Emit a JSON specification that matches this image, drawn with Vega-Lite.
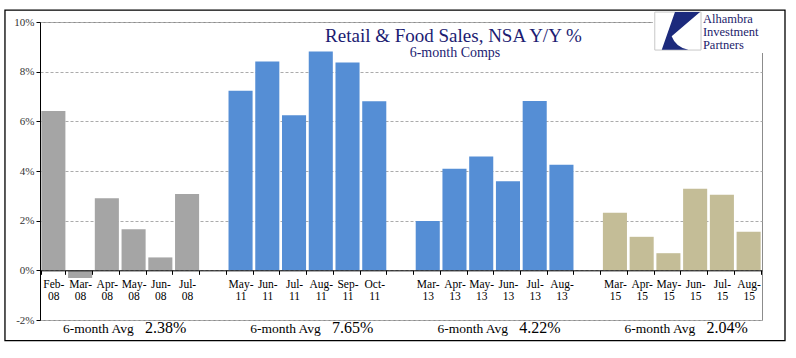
{
  "$schema": "https://vega.github.io/schema/vega-lite/v6.json",
  "width": 722,
  "height": 298,
  "autosize": {"type": "none"},
  "padding": {"left": 40, "top": 22, "right": 34, "bottom": 38},
  "background": "white",
  "config": {"view": {"stroke": "#8C8C8C"}, "font": "Liberation Serif"},
  "datasets": {
    "sales": [
      {"month": "Feb-08", "value": 6.42, "period": "2008"},
      {"month": "Mar-08", "value": -0.31, "period": "2008"},
      {"month": "Apr-08", "value": 2.90, "period": "2008"},
      {"month": "May-08", "value": 1.65, "period": "2008"},
      {"month": "Jun-08", "value": 0.52, "period": "2008"},
      {"month": "Jul-08", "value": 3.07, "period": "2008"},
      {"month": "May-11", "value": 7.23, "period": "2011"},
      {"month": "Jun-11", "value": 8.41, "period": "2011"},
      {"month": "Jul-11", "value": 6.25, "period": "2011"},
      {"month": "Aug-11", "value": 8.81, "period": "2011"},
      {"month": "Sep-11", "value": 8.37, "period": "2011"},
      {"month": "Oct-11", "value": 6.81, "period": "2011"},
      {"month": "Mar-13", "value": 1.99, "period": "2013"},
      {"month": "Apr-13", "value": 4.09, "period": "2013"},
      {"month": "May-13", "value": 4.58, "period": "2013"},
      {"month": "Jun-13", "value": 3.59, "period": "2013"},
      {"month": "Jul-13", "value": 6.82, "period": "2013"},
      {"month": "Aug-13", "value": 4.25, "period": "2013"},
      {"month": "Mar-15", "value": 2.32, "period": "2015"},
      {"month": "Apr-15", "value": 1.35, "period": "2015"},
      {"month": "May-15", "value": 0.69, "period": "2015"},
      {"month": "Jun-15", "value": 3.29, "period": "2015"},
      {"month": "Jul-15", "value": 3.04, "period": "2015"},
      {"month": "Aug-15", "value": 1.55, "period": "2015"}
    ],
    "avgs": [
      {"month": "Apr-08", "avg": "2.38%"},
      {"month": "Jul-11", "avg": "7.65%"},
      {"month": "May-13", "avg": "4.22%"},
      {"month": "May-15", "avg": "2.04%"}
    ]
  },
  "resolve": {"scale": {"x": "independent"}},
  "layer": [
    {
      "layer": [
        {
          "data": {"name": "sales"},
          "mark": {"type": "bar"},
          "encoding": {
            "x": {
              "field": "month", "type": "nominal", "sort": null,
              "scale": {
                "domain": ["Feb-08","Mar-08","Apr-08","May-08","Jun-08","Jul-08","g1","May-11","Jun-11","Jul-11","Aug-11","Sep-11","Oct-11","g2","Mar-13","Apr-13","May-13","Jun-13","Jul-13","Aug-13","g3","Mar-15","Apr-15","May-15","Jun-15","Jul-15","Aug-15"],
                "paddingInner": 0.1, "paddingOuter": 0.05
              },
              "axis": {
                "orient": "bottom", "offset": -49.67, "title": null,
                "domainColor": "#000000", "domainWidth": 1,
                "tickColor": "#000000", "tickSize": 4, "tickBand": "extent",
                "labelAngle": 0, "labelFont": "Liberation Serif", "labelFontSize": 11.5,
                "labelColor": "#000000", "labelLineHeight": 12.5, "labelPadding": 4,
                "labelOverlap": false, "labelBound": false,
                "labelExpr": "isString(datum.value) && length(datum.value) > 3 ? [slice(datum.value,0,4), slice(datum.value,4)] : ''",
                "grid": false, "zindex": 1
              }
            },
            "y": {
              "field": "value", "type": "quantitative",
              "scale": {"domain": [-2, 10], "nice": false, "zero": false},
              "axis": {
                "values": [-2, 0, 2, 4, 6, 8, 10], "title": null,
                "labelExpr": "datum.value + '%'",
                "grid": true, "gridDash": [3, 2], "gridColor": "#ABABAB",
                "domainColor": "#000000", "tickColor": "#000000", "tickSize": 4,
                "labelFont": "Liberation Serif", "labelFontSize": 11,
                "labelColor": "#333333", "labelPadding": 2
              }
            },
            "color": {
              "field": "period", "type": "nominal",
              "scale": {"domain": ["2008", "2011", "2013", "2015"], "range": ["#A5A5A5", "#558ED5", "#558ED5", "#C4BD97"]},
              "legend": null
            }
          }
        },
        {
          "data": {"name": "avgs"},
          "mark": {"type": "text", "text": "6-month Avg", "align": "right", "baseline": "alphabetic", "dx": 14.8, "fontSize": 13.5, "color": "#000000"},
          "encoding": {
            "x": {"field": "month", "type": "nominal", "bandPosition": 1},
            "y": {"datum": -2.54, "type": "quantitative", "scale": {"domain": [-2, 10], "nice": false, "zero": false}}
          }
        },
        {
          "data": {"name": "avgs"},
          "mark": {"type": "text", "align": "left", "baseline": "alphabetic", "dx": 26, "fontSize": 16, "color": "#000000"},
          "encoding": {
            "x": {"field": "month", "type": "nominal", "bandPosition": 1},
            "y": {"datum": -2.54, "type": "quantitative", "scale": {"domain": [-2, 10], "nice": false, "zero": false}},
            "text": {"field": "avg"}
          }
        }
      ]
    },
    {
      "data": {"values": [{}]},
      "layer": [
        {
          "mark": {"type": "rect", "fill": "transparent", "stroke": "#000000", "strokeWidth": 1.3},
          "encoding": {
            "x": {"datum": -1.31, "type": "quantitative", "scale": {"domain": [0, 27], "nice": false, "zero": false}, "axis": null},
            "x2": {"datum": 27.86},
            "y": {"datum": 10.48, "type": "quantitative", "scale": {"domain": [-2, 10], "nice": false, "zero": false}},
            "y2": {"datum": -2.83}
          }
        },
        {
          "mark": {"type": "rect", "fill": "white", "strokeWidth": 0},
          "encoding": {
            "x": {"datum": 22.92, "type": "quantitative", "scale": {"domain": [0, 27], "nice": false, "zero": false}, "axis": null},
            "x2": {"datum": 27.08},
            "y": {"datum": 10.44, "type": "quantitative", "scale": {"domain": [-2, 10], "nice": false, "zero": false}},
            "y2": {"datum": 8.75}
          }
        },
        {
          "mark": {"type": "rect", "fill": "white", "stroke": "#C8C8C8", "strokeWidth": 1},
          "encoding": {
            "x": {"datum": 22.99, "type": "quantitative", "scale": {"domain": [0, 27], "nice": false, "zero": false}, "axis": null},
            "x2": {"datum": 24.72},
            "y": {"datum": 10.40, "type": "quantitative", "scale": {"domain": [-2, 10], "nice": false, "zero": false}},
            "y2": {"datum": 8.87}
          }
        },
        {
          "mark": {"type": "point", "filled": true, "opacity": 1, "color": "#1C2A7C", "strokeWidth": 0, "size": 1936,
            "shape": "M-0.14,-0.86 L1,-0.86 L-0.29,0.24 Q-0.1,0.75 0.47,0.85 L-0.74,0.85 Z"},
          "encoding": {
            "x": {"datum": 23.86, "type": "quantitative", "scale": {"domain": [0, 27], "nice": false, "zero": false}, "axis": null},
            "y": {"datum": 9.64, "type": "quantitative", "scale": {"domain": [-2, 10], "nice": false, "zero": false}}
          }
        },
        {
          "mark": {"type": "text", "text": ["Alhambra", "Investment", "Partners"], "align": "left", "baseline": "alphabetic",
            "fontSize": 12.5, "lineHeight": 12.6, "color": "#1C1C6B"},
          "encoding": {
            "x": {"datum": 24.79, "type": "quantitative", "scale": {"domain": [0, 27], "nice": false, "zero": false}, "axis": null},
            "y": {"datum": 9.94, "type": "quantitative", "scale": {"domain": [-2, 10], "nice": false, "zero": false}}
          }
        },
        {
          "mark": {"type": "text", "text": "Retail & Food Sales, NSA Y/Y %", "align": "center", "baseline": "alphabetic",
            "fontSize": 19, "color": "#1C1C72"},
          "encoding": {
            "x": {"datum": 15.46, "type": "quantitative", "scale": {"domain": [0, 27], "nice": false, "zero": false}, "axis": null},
            "y": {"datum": 9.19, "type": "quantitative", "scale": {"domain": [-2, 10], "nice": false, "zero": false}}
          }
        },
        {
          "mark": {"type": "text", "text": "6-month Comps", "align": "center", "baseline": "alphabetic",
            "fontSize": 14, "color": "#1C1C72"},
          "encoding": {
            "x": {"datum": 15.52, "type": "quantitative", "scale": {"domain": [0, 27], "nice": false, "zero": false}, "axis": null},
            "y": {"datum": 8.59, "type": "quantitative", "scale": {"domain": [-2, 10], "nice": false, "zero": false}}
          }
        }
      ]
    }
  ]
}
